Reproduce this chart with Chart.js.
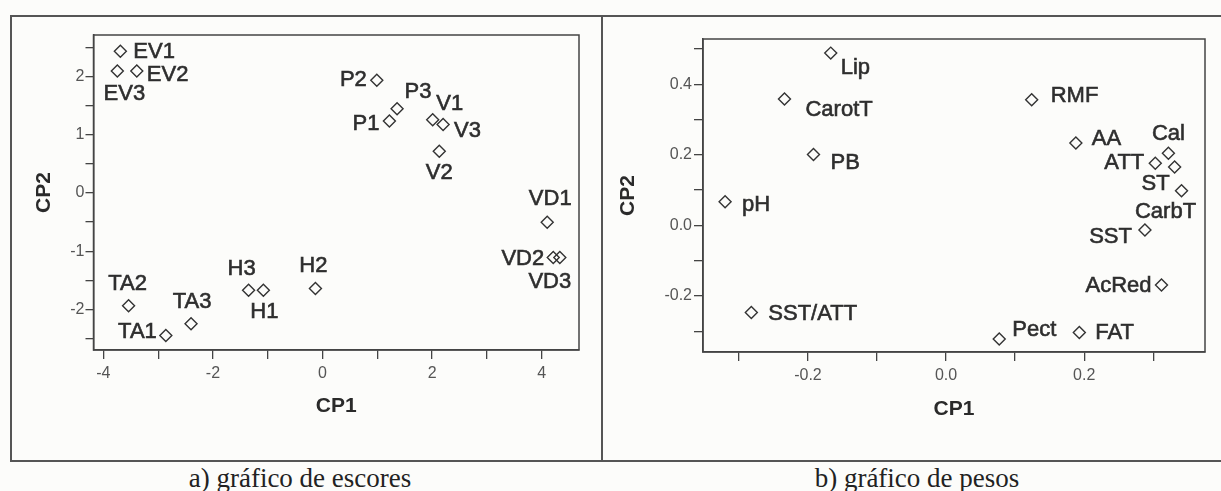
<!DOCTYPE html>
<html>
<head>
<meta charset="utf-8">
<script src="https://cdn.jsdelivr.net/npm/chart.js@4.4.0/dist/chart.umd.min.js"></script>
<style>
  html, body { margin: 0; padding: 0; background: #fcfcfa; width: 1221px; height: 491px; overflow: hidden; }
  .frame { position: absolute; left: 10px; top: 15px; width: 1240px; height: 447px; border: 2px solid #555; box-sizing: border-box; }
  .divider { position: absolute; left: 601px; top: 15px; width: 2px; height: 447px; background: #555; }
  canvas { position: absolute; }
  #scores { left: 12px; top: 17px; }
  #loads { left: 603px; top: 17px; }
  .caption { position: absolute; top: 463px; width: 400px; line-height: 30px; text-align: center;
             font-family: "Liberation Serif", serif; font-size: 27px; color: #222; }
</style>
</head>
<body>
<div class="frame"></div>
<div class="divider"></div>
<canvas id="scores" width="589" height="443"></canvas>
<canvas id="loads" width="618" height="443"></canvas>
<div class="caption" style="left:100px">a) gráfico de escores</div>
<div class="caption" style="left:717px">b) gráfico de pesos</div>

<script>
// a) scores
const scoreNames = ['EV1', 'EV2', 'EV3', 'P1', 'P2', 'P3', 'V1', 'V2', 'V3',
                    'VD1', 'VD2', 'VD3', 'H1', 'H2', 'H3', 'TA1', 'TA2', 'TA3'];
const scoreCP1 = [-3.69, -3.39, -3.745, 1.22, 0.99, 1.36, 2.01, 2.13, 2.20,
                  4.10, 4.21, 4.33, -1.08, -0.13, -1.35, -2.86, -3.54, -2.40];
const scoreCP2 = [2.44, 2.10, 2.10, 1.24, 1.94, 1.45, 1.26, 0.72, 1.18,
                  -0.50, -1.11, -1.11, -1.67, -1.64, -1.67, -2.45, -1.94, -2.25];

// b) loadings
const loadNames = ['Lip', 'CarotT', 'PB', 'pH', 'SST/ATT', 'RMF', 'AA', 'Cal',
                   'ATT', 'ST', 'CarbT', 'SST', 'AcRed', 'FAT', 'Pect'];
const loadCP1 = [-0.167, -0.234, -0.192, -0.320, -0.282, 0.124, 0.188, 0.322,
                 0.303, 0.331, 0.341, 0.288, 0.312, 0.193, 0.077];
const loadCP2 = [0.488, 0.358, 0.201, 0.067, -0.247, 0.356, 0.233, 0.204,
                 0.176, 0.165, 0.098, -0.013, -0.169, -0.304, -0.322];

// tick labels shown (other ticks are unlabeled minor ticks)
const scoreXTicks = [-4, -2, 0, 2, 4];
const scoreYTicks = [-2, -1, 0, 1, 2];
const loadXTicks = [-0.2, 0.0, 0.2];
const loadYTicks = [-0.2, 0.0, 0.2, 0.4];

// label placement next to each marker: [dx, dy, align]
const scoreLabelPos = [
  [13, 1, 'left'], [10, 4, 'left'], [7, 23, 'center'], [-10, 3, 'right'], [-10, 0, 'right'],
  [21, -17, 'center'], [17, -16, 'center'], [0, 22, 'center'], [11, 6, 'left'],
  [3, -23, 'center'], [-9, 1, 'right'], [-10, 24, 'center'], [1, 22, 'center'],
  [-2, -22, 'center'], [-7, -21, 'center'], [-9, -4, 'right'], [-1, -22, 'center'], [1, -22, 'center']
];
const loadLabelPos = [
  [10, 15, 'left'], [21, 11, 'left'], [17, 9, 'left'], [17, 3, 'left'], [17, 1, 'left'],
  [19, -4, 'left'], [16, -4, 'left'], [0, -19, 'center'], [-11, 0, 'right'], [-19, 17, 'center'],
  [-16, 21, 'center'], [-13, 7, 'right'], [-10, 1, 'right'], [16, 0, 'left'], [13, -9, 'left']
];

const ink = '#2e2e2e';

const framePlugin = {
  id: 'frame',
  afterDraw(chart) {
    const { ctx, chartArea: a } = chart;
    ctx.save();
    ctx.strokeStyle = '#444';
    ctx.lineWidth = 1.5;
    ctx.strokeRect(a.left, a.top, a.right - a.left, a.bottom - a.top);
    ctx.restore();
  }
};

const pointLabelPlugin = {
  id: 'pointLabels',
  afterDatasetsDraw(chart, args, opts) {
    const { ctx } = chart;
    const meta = chart.getDatasetMeta(0);
    ctx.save();
    ctx.font = '22px "Liberation Sans", Arial, sans-serif';
    ctx.fillStyle = ink;
    ctx.strokeStyle = ink;
    ctx.lineWidth = 0.6;
    ctx.textBaseline = 'middle';
    meta.data.forEach((pt, i) => {
      const [dx, dy, align] = opts.pos[i];
      ctx.textAlign = align;
      ctx.fillText(opts.names[i], pt.x + dx, pt.y + dy);
      ctx.strokeText(opts.names[i], pt.x + dx, pt.y + dy);
    });
    ctx.restore();
  }
};

function axis(cfg) {
  return {
    type: 'linear',
    min: cfg.min,
    max: cfg.max,
    afterFit: cfg.fit,
    border: { display: true, color: '#444', width: 1.5 },
    grid: { drawOnChartArea: false, drawTicks: true, tickLength: cfg.tickLength, color: '#444', lineWidth: 1.3 },
    ticks: {
      stepSize: cfg.step,
      includeBounds: false,
      padding: cfg.padding,
      color: '#555',
      font: { family: '"Liberation Sans", Arial, sans-serif', size: 16 },
      callback: (v) => {
        const hit = cfg.shown.find(t => Math.abs(t - v) < cfg.step / 10);
        return hit === undefined ? '' : hit.toFixed(cfg.decimals);
      }
    },
    title: {
      display: true,
      text: cfg.title,
      color: '#2a2a2a',
      font: { family: '"Liberation Sans", Arial, sans-serif', size: 21, weight: 'bold', lineHeight: 1.2 },
      padding: cfg.titlePad
    }
  };
}

function makeChart(id, xs, ys, names, pos, o) {
  new Chart(document.getElementById(id), {
    type: 'scatter',
    data: {
      datasets: [{
        data: xs.map((x, i) => ({ x: x, y: ys[i] })),
        pointStyle: 'rectRot',
        radius: 6,
        borderColor: '#333',
        borderWidth: 1.4,
        backgroundColor: 'rgba(0,0,0,0)'
      }]
    },
    options: {
      responsive: false,
      animation: false,
      layout: { padding: o.padding },
      plugins: {
        legend: { display: false },
        tooltip: { enabled: false },
        pointLabels: { names: names, pos: pos }
      },
      scales: { x: axis(o.x), y: axis(o.y) }
    },
    plugins: [framePlugin, pointLabelPlugin]
  });
}

makeChart('scores', scoreCP1, scoreCP2, scoreNames, scoreLabelPos, {
  padding: { left: 0, top: 18, right: 22, bottom: 0 },
  x: { min: -4.18, max: 4.68, step: 1, shown: scoreXTicks, decimals: 0, tickLength: 9, padding: 5,
       title: 'CP1', titlePad: { top: 4, bottom: 41 }, fit: (s) => { s.height = 110; } },
  y: { min: -2.70, max: 2.72, step: 0.5, shown: scoreYTicks, decimals: 0, tickLength: 8, padding: 1,
       title: 'CP2', titlePad: { top: 20, bottom: 0 }, fit: (s) => { s.width = 81.5; } }
});

makeChart('loads', loadCP1, loadCP2, loadNames, loadLabelPos, {
  padding: { left: 0, top: 22, right: 16, bottom: 0 },
  x: { min: -0.352, max: 0.375, step: 0.1, shown: loadXTicks, decimals: 1, tickLength: 9, padding: 5,
       title: 'CP1', titlePad: { top: 4, bottom: 38 }, fit: (s) => { s.height = 108; } },
  y: { min: -0.359, max: 0.528, step: 0.1, shown: loadYTicks, decimals: 1, tickLength: 9, padding: 2,
       title: 'CP2', titlePad: { top: 13, bottom: 0 }, fit: (s) => { s.width = 100; } }
});
</script>
</body>
</html>
